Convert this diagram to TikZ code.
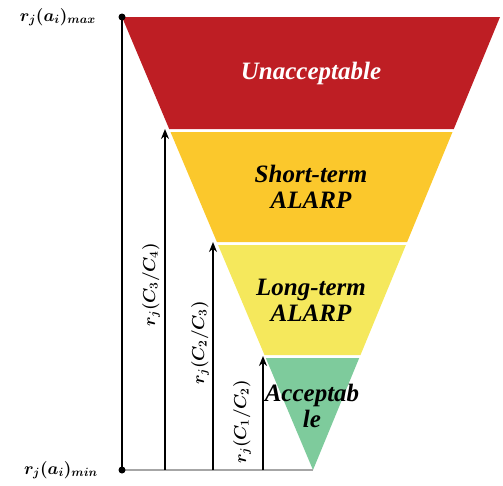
\documentclass[tikz,border=0pt]{standalone}
\usepackage{fontspec}
\setmainfont{Liberation Serif}
\usetikzlibrary{arrows.meta}
\definecolor{cRed}{HTML}{BE1E24}
\definecolor{cOrange}{HTML}{FBC82C}
\definecolor{cYellow}{HTML}{F5E85C}
\definecolor{cGreen}{HTML}{7ECB9C}
\tikzset{
  bandtext/.style={font=\fontsize{25}{26}\selectfont\bfseries\itshape, align=center, inner sep=0pt},
  lab/.style={font=\fontsize{17}{19}\selectfont\boldmath, inner sep=1pt},
  uparrow/.style={line width=2.4pt, -{Stealth[length=10pt,width=8pt]}},
}
\begin{document}
\begin{tikzpicture}[x=1pt,y=-1pt]
\useasboundingbox (0,0) rectangle (503,485);
% bands
\fill[cRed] (122,17) -- (500,17) -- (453.8,129) -- (169.2,129) -- cycle;
\fill[cOrange] (170.5,132) -- (452.5,132) -- (407.1,242) -- (216.9,242) -- cycle;
\fill[cYellow] (218.1,245) -- (405.9,245) -- (360.5,355) -- (264.5,355) -- cycle;
\fill[cGreen] (265.8,358) -- (359.2,358) -- (313,470) -- cycle;
% band texts
\node[bandtext, text=white] (t1) at (311,73) {Unacceptable};
\node[bandtext] (t2) at (311,187) {Short-term\\ALARP};
\node[bandtext] (t3) at (311,300) {Long-term\\ALARP};
\node[bandtext] (t4) at (312,406) {Acceptab\\le};
% axis
\coordinate (top) at (122,17);
\coordinate (bot) at (122,470);
\coordinate (apex) at (313,470);
\draw[gray!70, line width=1.2pt] (bot) -- (apex);
\draw[line width=2.4pt] (top) -- (bot);
\fill (top) circle (3.5);
\fill (bot) circle (3.5);
\node[lab, anchor=east] (lmax) at (97,17) {$r_j(a_i)_{max}$};
\node[lab, anchor=east] (lmin) at (99,470) {$r_j(a_i)_{min}$};
% arrows
\coordinate (a1b) at (165,470); \coordinate (a1t) at (165,129);
\coordinate (a2b) at (213,470); \coordinate (a2t) at (213,242);
\coordinate (a3b) at (263,470); \coordinate (a3t) at (263,356);
\draw[uparrow] (a1b) -- (a1t);
\draw[uparrow] (a2b) -- (a2t);
\draw[uparrow] (a3b) -- (a3t);
\node[lab, rotate=90] (c34) at (151,285) {$r_j(C_3/C_4)$};
\node[lab, rotate=90] (c23) at (200,343) {$r_j(C_2/C_3)$};
\node[lab, rotate=90] (c12) at (242,422) {$r_j(C_1/C_2)$};
\end{tikzpicture}
\end{document}
